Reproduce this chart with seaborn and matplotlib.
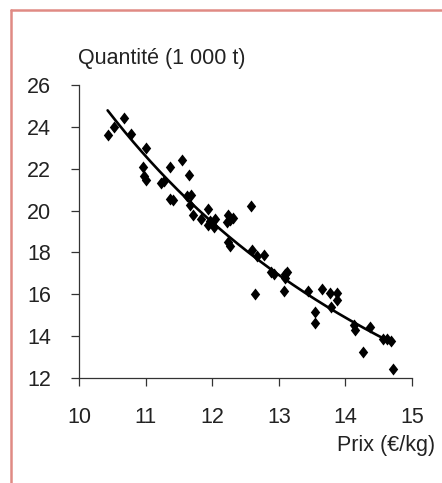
import numpy as np
import pandas as pd
import seaborn as sns
import matplotlib.pyplot as plt
from matplotlib.lines import Line2D

# values
prix = [10.43, 10.52, 10.67, 10.78, 11.00, 10.96, 10.98, 11.00, 11.36, 11.54,
        11.65, 11.23, 11.27, 11.37, 11.41, 11.62, 11.68, 11.66, 11.71, 11.94,
        11.83, 11.93, 11.96, 12.04, 12.03, 12.24, 12.27, 12.31, 12.22, 12.58,
        12.23, 12.27, 12.60, 12.68, 12.78, 12.65, 12.88, 12.93, 13.09, 13.13,
        13.10, 13.08, 13.44, 13.65, 13.77, 13.88, 13.88, 13.78, 13.54, 13.55,
        14.13, 14.14, 14.37, 14.26, 14.57, 14.62, 14.68, 14.71]
quantite = [23.60, 24.00, 24.40, 23.65, 23.00, 22.07, 21.65, 21.47, 22.08, 22.40,
            21.71, 21.32, 21.40, 20.55, 20.52, 20.70, 20.75, 20.25, 19.78, 20.07,
            19.58, 19.32, 19.48, 19.60, 19.20, 19.80, 19.55, 19.65, 19.45, 20.20,
            18.50, 18.33, 18.12, 17.82, 17.88, 16.02, 17.05, 16.95, 16.96, 17.05,
            16.78, 16.17, 16.18, 16.25, 16.08, 16.04, 15.75, 15.38, 15.16, 14.63,
            14.52, 14.30, 14.43, 13.23, 13.85, 13.85, 13.75, 12.42]

x_ticks = [10, 11, 12, 13, 14, 15]
y_ticks = [12, 14, 16, 18, 20, 22, 24, 26]

df = pd.DataFrame({'prix': prix, 'quantite': quantite})

# power trend line (log-log fit) over the data range
b, a = np.polyfit(np.log(df['prix']), np.log(df['quantite']), 1)
trend = pd.DataFrame({'prix': np.linspace(df['prix'].min(), df['prix'].max(), 200)})
trend['quantite'] = np.exp(a) * trend['prix'] ** b

sns.set_style('ticks')
plt.rcParams['font.family'] = ['Liberation Sans', 'DejaVu Sans']

fig = plt.figure(figsize=(4.42, 4.83), dpi=100)
ax = fig.add_axes([0.1787, 0.2174, 0.7534, 0.6066])

diamond = [(0, 1), (0.78, 0), (0, -1), (-0.78, 0), (0, 1)]
sns.scatterplot(data=df, x='prix', y='quantite', ax=ax, marker=diamond,
                color='black', s=75, linewidth=0, clip_on=False, zorder=3)
sns.lineplot(data=trend, x='prix', y='quantite', ax=ax, color='black',
             linewidth=1.9, zorder=4)

fs = 15.5
ax.set_xlim(10, 15)
ax.set_ylim(12, 26)
ax.set_xticks(x_ticks)
ax.set_yticks(y_ticks)
ax.tick_params(axis='both', direction='out', length=6, width=0.9,
               color='#333333', labelsize=fs, labelcolor='#222222')
ax.tick_params(axis='y', pad=14)
ax.tick_params(axis='x', pad=15)
sns.despine(ax=ax)
for side in ['left', 'bottom']:
    ax.spines[side].set_linewidth(0.9)
    ax.spines[side].set_color('#333333')

ax.set_ylabel('Quantité (1 000 t)', rotation=0, fontsize=fs, color='#222222',
              ha='left', va='center')
ax.yaxis.set_label_coords(-0.003, 1.092)
ax.set_xlabel('Prix (€/kg)', fontsize=fs, color='#222222', ha='right', va='center')
ax.xaxis.set_label_coords(1.069, -0.229)

# salmon frame around the chart
frame = '#e08a84'
fig.add_artist(Line2D([0.0249, 0.0249], [0.0, 0.979], color=frame, lw=1.8))
fig.add_artist(Line2D([0.0249, 1.0], [0.979, 0.979], color=frame, lw=1.8))

fig.savefig('out.png', dpi=100)
